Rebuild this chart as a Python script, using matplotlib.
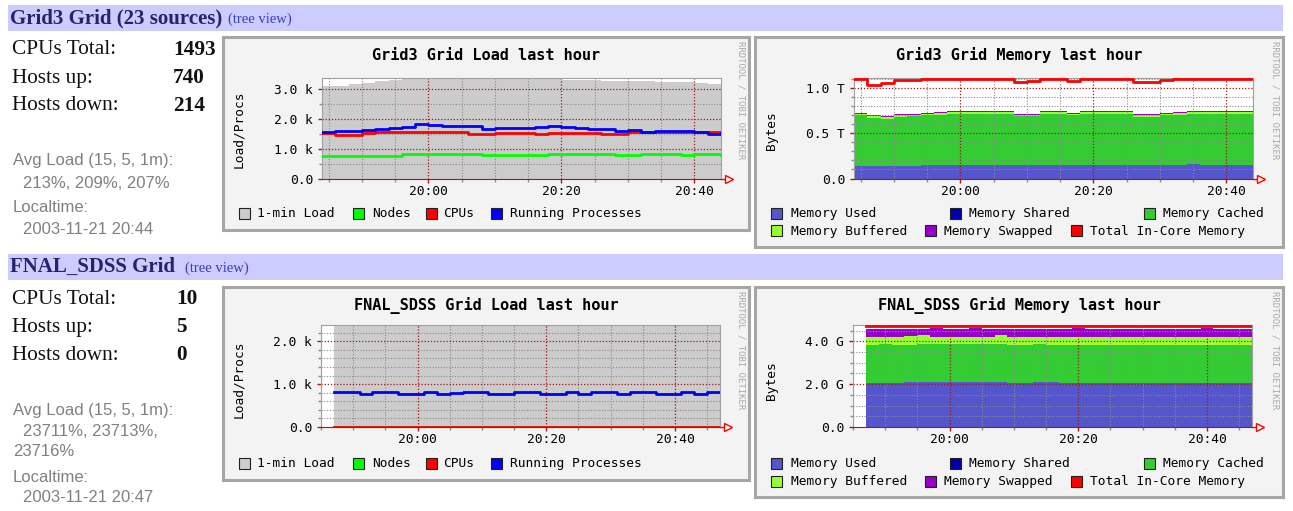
import matplotlib
matplotlib.use('Agg')
import matplotlib.pyplot as plt
from matplotlib.patches import Rectangle
import numpy as np

plt.rcParams['font.family'] = 'DejaVu Sans Mono'

W, H = 1293, 511

# time axis: minutes after 19:00, one sample every 2 minutes
grid3_t = np.arange(44, 105, 2)
fnal_t = np.arange(47, 108, 2)
time_ticks = [60, 80, 100]
time_labels = ['20:00', '20:20', '20:40']

# Grid3 load (thousands)
grid3_load = [3.08, 3.10, 3.14, 3.20, 3.24, 3.28, 3.32, 3.36, 3.38, 3.40,
              3.40, 3.38, 3.38, 3.37, 3.36, 3.36, 3.36, 3.35, 3.30, 3.28,
              3.27, 3.26, 3.25, 3.25, 3.24, 3.23, 3.22, 3.21, 3.20, 3.15, 3.12]
grid3_nodes = [0.76, 0.76, 0.76, 0.76, 0.76, 0.76, 0.81, 0.81, 0.81, 0.81,
               0.81, 0.81, 0.77, 0.77, 0.77, 0.77, 0.77, 0.81, 0.81, 0.81,
               0.81, 0.81, 0.77, 0.77, 0.81, 0.81, 0.81, 0.78, 0.81, 0.81, 0.77]
grid3_cpus = [1.52, 1.45, 1.44, 1.52, 1.54, 1.54, 1.54, 1.54, 1.54, 1.54,
              1.54, 1.48, 1.48, 1.53, 1.53, 1.53, 1.47, 1.53, 1.53, 1.53,
              1.53, 1.47, 1.47, 1.54, 1.54, 1.54, 1.54, 1.54, 1.54, 1.54, 1.54]
grid3_procs = [1.56, 1.58, 1.57, 1.62, 1.65, 1.70, 1.72, 1.83, 1.78, 1.76,
               1.76, 1.74, 1.66, 1.68, 1.70, 1.69, 1.71, 1.76, 1.73, 1.67,
               1.66, 1.64, 1.58, 1.62, 1.56, 1.58, 1.60, 1.58, 1.54, 1.50, 1.52]

# Grid3 memory (TB)
grid3_mem_used = [0.14, 0.14, 0.14, 0.14, 0.14, 0.145, 0.15, 0.155, 0.155, 0.155,
                  0.155, 0.155, 0.15, 0.155, 0.155, 0.15, 0.155, 0.155, 0.155, 0.155,
                  0.155, 0.15, 0.15, 0.15, 0.155, 0.16, 0.155, 0.155, 0.155, 0.155, 0.15]
grid3_mem_shared = [0, 0, 0, 0, 0, 0, 0, 0, 0, 0, 0, 0, 0, 0, 0, 0,
                    0, 0, 0, 0, 0, 0, 0, 0, 0, 0, 0, 0, 0, 0, 0]
grid3_mem_cached = [0.56, 0.53, 0.525, 0.54, 0.55, 0.555, 0.56, 0.565, 0.565, 0.565,
                    0.565, 0.565, 0.54, 0.535, 0.565, 0.57, 0.545, 0.565, 0.565, 0.565,
                    0.565, 0.535, 0.535, 0.55, 0.555, 0.56, 0.565, 0.565, 0.565, 0.565, 0.57]
grid3_mem_buffered = [0.02, 0.02, 0.02, 0.02, 0.02, 0.02, 0.018, 0.018, 0.018, 0.018,
                      0.018, 0.018, 0.02, 0.02, 0.018, 0.018, 0.02, 0.018, 0.018, 0.018,
                      0.018, 0.02, 0.02, 0.02, 0.018, 0.018, 0.018, 0.018, 0.018, 0.018, 0.018]
grid3_mem_swapped = [0.012, 0.012, 0.012, 0.012, 0.012, 0.012, 0.012, 0.012, 0.012, 0.012,
                     0.012, 0.012, 0.012, 0.012, 0.012, 0.012, 0.012, 0.012, 0.012, 0.012,
                     0.012, 0.012, 0.012, 0.012, 0.012, 0.012, 0.012, 0.012, 0.012, 0.012, 0.012]
grid3_mem_total = [1.10, 1.04, 1.06, 1.09, 1.09, 1.10, 1.11, 1.11, 1.11, 1.11,
                   1.11, 1.11, 1.07, 1.08, 1.11, 1.11, 1.08, 1.10, 1.11, 1.11,
                   1.11, 1.07, 1.07, 1.09, 1.10, 1.11, 1.11, 1.11, 1.10, 1.11, 1.10]

# FNAL_SDSS load (thousands)
fnal_load = [2.37, 2.37, 2.37, 2.37, 2.37, 2.37, 2.37, 2.37, 2.37, 2.37,
             2.37, 2.37, 2.37, 2.37, 2.37, 2.37, 2.37, 2.37, 2.37, 2.37,
             2.37, 2.37, 2.37, 2.37, 2.37, 2.37, 2.37, 2.37, 2.37, 2.37, 2.37]
fnal_nodes = [0.005, 0.005, 0.005, 0.005, 0.005, 0.005, 0.005, 0.005, 0.005, 0.005,
              0.005, 0.005, 0.005, 0.005, 0.005, 0.005, 0.005, 0.005, 0.005, 0.005,
              0.005, 0.005, 0.005, 0.005, 0.005, 0.005, 0.005, 0.005, 0.005, 0.005, 0.005]
fnal_cpus = [0.01, 0.01, 0.01, 0.01, 0.01, 0.01, 0.01, 0.01, 0.01, 0.01,
             0.01, 0.01, 0.01, 0.01, 0.01, 0.01, 0.01, 0.01, 0.01, 0.01,
             0.01, 0.01, 0.01, 0.01, 0.01, 0.01, 0.01, 0.01, 0.01, 0.01, 0.01]
fnal_procs = [0.81, 0.81, 0.77, 0.81, 0.81, 0.77, 0.77, 0.81, 0.77, 0.80,
              0.81, 0.81, 0.77, 0.77, 0.81, 0.81, 0.77, 0.77, 0.81, 0.77,
              0.81, 0.81, 0.77, 0.81, 0.81, 0.77, 0.77, 0.81, 0.77, 0.81, 0.81]

# FNAL_SDSS memory (GB)
fnal_mem_used = [2.05, 2.05, 2.05, 2.08, 2.08, 2.08, 2.08, 2.08, 2.08, 2.08,
                 2.08, 2.05, 2.05, 2.08, 2.08, 2.05, 2.05, 2.05, 2.05, 2.05,
                 2.05, 2.05, 2.05, 2.05, 2.05, 2.05, 2.05, 2.05, 2.05, 2.05, 2.08]
fnal_mem_shared = [0, 0, 0, 0, 0, 0, 0, 0, 0, 0, 0, 0, 0, 0, 0, 0,
                   0, 0, 0, 0, 0, 0, 0, 0, 0, 0, 0, 0, 0, 0, 0]
fnal_mem_cached = [1.80, 1.81, 1.77, 1.74, 1.80, 1.80, 1.80, 1.80, 1.80, 1.80,
                   1.80, 1.77, 1.77, 1.78, 1.76, 1.79, 1.79, 1.80, 1.80, 1.80,
                   1.80, 1.80, 1.80, 1.80, 1.80, 1.80, 1.80, 1.80, 1.77, 1.80, 1.77]
fnal_mem_buffered = [0.33, 0.32, 0.36, 0.44, 0.42, 0.30, 0.30, 0.30, 0.30, 0.30,
                     0.42, 0.36, 0.36, 0.32, 0.34, 0.34, 0.34, 0.33, 0.33, 0.33,
                     0.33, 0.33, 0.33, 0.33, 0.33, 0.33, 0.33, 0.33, 0.36, 0.33, 0.33]
fnal_mem_swapped = [0.40, 0.40, 0.40, 0.32, 0.28, 0.42, 0.40, 0.40, 0.42, 0.40,
                    0.28, 0.40, 0.40, 0.40, 0.40, 0.40, 0.42, 0.40, 0.40, 0.40,
                    0.40, 0.40, 0.40, 0.40, 0.40, 0.40, 0.42, 0.40, 0.40, 0.40, 0.40]
fnal_mem_total = [4.72, 4.72, 4.72, 4.72, 4.72, 4.72, 4.72, 4.72, 4.72, 4.72,
                  4.72, 4.72, 4.72, 4.72, 4.72, 4.72, 4.72, 4.72, 4.72, 4.72,
                  4.72, 4.72, 4.72, 4.72, 4.72, 4.72, 4.72, 4.72, 4.72, 4.72, 4.72]

load_names = ['1-min Load', 'Nodes', 'CPUs', 'Running Processes']
load_colors = ['#cccccc', '#00ff00', '#ff0000', '#0000ff']
mem_names = ['Memory Used', 'Memory Shared', 'Memory Cached',
             'Memory Buffered', 'Memory Swapped', 'Total In-Core Memory']
mem_colors = ['#5555cc', '#0000aa', '#33cc33', '#99ff33', '#9900cc', '#ff0000']

stat_labels = ['CPUs Total:', 'Hosts up:', 'Hosts down:']
grid3_stats = ['1493', '740', '214']
fnal_stats = ['10', '5', '0']

MAJOR = '#a01818'
MINOR = '#8c8c8c'
DOTS = (0, (1, 1.5))

fig = plt.figure(figsize=(W / 100, H / 100), dpi=100)
fig.patch.set_facecolor('white')


def px_axes(x0, y0, x1, y1):
    return fig.add_axes([x0 / W, 1 - y1 / H, (x1 - x0) / W, (y1 - y0) / H])


def txt(x, y, s, **kw):
    kw.setdefault('va', 'center')
    fig.text(x / W, 1 - y / H, s, **kw)


def rect(x0, y0, w, h, **kw):
    fig.add_artist(Rectangle((x0 / W, 1 - (y0 + h) / H), w / W, h / H,
                             transform=fig.transFigure, **kw))


def box(x0, y0, x1, y1):
    ax = px_axes(x0, y0, x1, y1)
    ax.set_facecolor('#f3f3f3')
    ax.set_xticks([])
    ax.set_yticks([])
    for s in ax.spines.values():
        s.set_color('#a6a6a6')
        s.set_linewidth(2.2)
    # rrdtool signature
    txt(x1 - 8, y0 + 4, 'RRDTOOL / TOBI OETIKER', rotation=270, fontsize=6.5,
        color='#aaaaaa', ha='center', va='top')
    return ax


def rrd_axes(x0, y0, x1, y1, t, ymax, yticks, ylabels, ystep):
    ax = px_axes(x0, y0, x1, y1)
    ax.set_facecolor('white')
    ax.set_xlim(t[0], t[-1])
    ax.set_ylim(0, ymax)
    xminor = [m for m in np.arange(45, t[-1], 5) if m not in time_ticks]
    yminor = [v for v in np.arange(ystep, ymax, ystep)
              if min(abs(v - k) for k in yticks) > 1e-6]
    ax.set_xticks(time_ticks)
    ax.set_xticklabels(time_labels)
    ax.set_xticks(xminor, minor=True)
    ax.set_yticks(yticks)
    ax.set_yticklabels(ylabels)
    ax.set_yticks(yminor, minor=True)
    # grid drawn over the areas, like rrdtool does
    for m in xminor:
        ax.axvline(m, color=MINOR, ls=DOTS, lw=0.8, zorder=2)
    for v in yminor:
        ax.axhline(v, color=MINOR, ls=DOTS, lw=0.8, zorder=2)
    for m in time_ticks:
        ax.axvline(m, color=MAJOR, ls=DOTS, lw=0.9, zorder=2)
    for v in yticks[1:]:
        ax.axhline(v, color=MAJOR, ls=DOTS, lw=0.9, zorder=2)
    ax.tick_params(which='major', direction='out', length=3, width=1,
                   color=MAJOR, labelsize=9.3)
    ax.tick_params(which='minor', direction='out', length=2, width=1, color=MINOR)
    ax.tick_params(axis='y', pad=3.5)
    ax.tick_params(axis='x', pad=1.5)
    for s in ['top', 'right', 'left']:
        ax.spines[s].set_color('#a0a0a0')
    ax.spines['bottom'].set_color(MAJOR)
    ax.plot([1.0, 1.025], [0, 0], color='#ff0000', lw=1,
            transform=ax.transAxes, clip_on=False)
    ax.plot([1.02], [0], marker='>', ms=6, mfc='white', mec='#ff0000', mew=1,
            transform=ax.transAxes, clip_on=False)
    return ax


def legend_item(xs, y, color, label, xt):
    rect(xs, y - 5.5, 11, 11, facecolor=color, edgecolor='#222222', lw=0.8)
    txt(xt, y, label, fontsize=9.3)


def load_chart(dy, t, title, ymax, yticks, ylabels, ystep, load, nodes, cpus, procs):
    box(223, 37 + dy, 749, 230 + dy)
    txt(486, 55 + dy, title, fontsize=11, fontweight='bold', ha='center')
    txt(239, 129 + dy, 'Load/Procs', rotation=90, fontsize=9.3, ha='center')
    top = 77.5 if dy == 0 else 325
    bottom = 178.5 if dy == 0 else 427
    x0, x1 = (322, 721) if dy == 0 else (321, 720)
    ax = rrd_axes(x0, top, x1, bottom, t, ymax, yticks, ylabels, ystep)
    ax.fill_between(t, load, step='post', color=load_colors[0], lw=0, zorder=1)
    for vals, col in zip([nodes, cpus, procs], load_colors[1:]):
        ax.step(t, vals, where='post', color=col, lw=2, zorder=3)
    ly = 213.5 + dy
    legend_item(239, ly, load_colors[0], load_names[0], 257)
    legend_item(353, ly, load_colors[1], load_names[1], 372)
    legend_item(426, ly, load_colors[2], load_names[2], 443)
    legend_item(491, ly, load_colors[3], load_names[3], 510)


def mem_chart(dy, t, title, ymax, yticks, ylabels, ystep, stacks, total):
    box(755, 37 + dy, 1283, 247 + dy)
    txt(1019, 55 + dy, title, fontsize=11, fontweight='bold', ha='center')
    txt(771, 131 + dy, 'Bytes', rotation=90, fontsize=9.3, ha='center')
    top = 77.5 if dy == 0 else 325
    bottom = 178.5 if dy == 0 else 427
    x0, x1 = (854, 1253) if dy == 0 else (853, 1252)
    ax = rrd_axes(x0, top, x1, bottom, t, ymax, yticks, ylabels, ystep)
    cum = np.zeros(len(t))
    for vals, col in zip(stacks, mem_colors[:5]):
        upper = cum + np.array(vals)
        ax.fill_between(t, cum, upper, step='post', color=col, lw=0, zorder=1)
        cum = upper
    ax.step(t, total, where='post', color=mem_colors[5], lw=2, zorder=3)
    ly1, ly2 = 213.5 + dy, 231 + dy
    legend_item(771, ly1, mem_colors[0], mem_names[0], 791)
    legend_item(950, ly1, mem_colors[1], mem_names[1], 969)
    legend_item(1144, ly1, mem_colors[2], mem_names[2], 1163)
    legend_item(771, ly2, mem_colors[3], mem_names[3], 791)
    legend_item(925, ly2, mem_colors[4], mem_names[4], 944)
    legend_item(1071, ly2, mem_colors[5], mem_names[5], 1090)


def header(y0, title, link_x):
    rect(8, y0, 1275, 26, facecolor='#ccccff', edgecolor='none')
    txt(10, y0 + 13, title, fontsize=15, fontweight='bold', color='#24246e',
        family='Liberation Serif')
    txt(link_x, y0 + 14, '(tree view)', fontsize=10.5, color='#3a3acc',
        family='Liberation Serif')


def stats(dy, values, vx, lines):
    for i, (lab, val) in enumerate(zip(stat_labels, values)):
        y = 50 + dy + 28 * i
        txt(12, y, lab, fontsize=15.3, family='Liberation Serif', color='#111111')
        txt(vx, y, val, fontsize=15.3, fontweight='bold', family='Liberation Serif',
            color='#111111')
    for x, y, s in lines:
        txt(x, y + dy, s, fontsize=12, family='Liberation Sans', color='#808080')


# ---- Grid3 row ----
header(5, 'Grid3 Grid (23 sources)', 228)
stats(0, grid3_stats, 173, [(13, 161, 'Avg Load (15, 5, 1m):'),
                            (23, 183, '213%, 209%, 207%'),
                            (13, 208, 'Localtime:'),
                            (23, 229, '2003-11-21 20:44')])
load_chart(0, grid3_t, 'Grid3 Grid Load last hour', 3.37, [0, 1, 2, 3],
           ['0.0', '1.0 k', '2.0 k', '3.0 k'], 0.5,
           grid3_load, grid3_nodes, grid3_cpus, grid3_procs)
mem_chart(0, grid3_t, 'Grid3 Grid Memory last hour', 1.122, [0, 0.5, 1.0],
          ['0.0', '0.5 T', '1.0 T'], 0.1,
          [grid3_mem_used, grid3_mem_shared, grid3_mem_cached,
           grid3_mem_buffered, grid3_mem_swapped], grid3_mem_total)

# ---- FNAL_SDSS row ----
header(254, 'FNAL_SDSS Grid', 185)
stats(249, fnal_stats, 176, [(13, 161, 'Avg Load (15, 5, 1m):'),
                             (23, 183, '23711%, 23713%,'),
                             (13, 203, '23716%'),
                             (13, 229, 'Localtime:'),
                             (23, 249, '2003-11-21 20:47')])
load_chart(250, fnal_t, 'FNAL_SDSS Grid Load last hour', 2.38, [0, 1, 2],
           ['0.0', '1.0 k', '2.0 k'], 0.2,
           fnal_load, fnal_nodes, fnal_cpus, fnal_procs)
mem_chart(250, fnal_t, 'FNAL_SDSS Grid Memory last hour', 4.76, [0, 2, 4],
          ['0.0', '2.0 G', '4.0 G'], 0.5,
          [fnal_mem_used, fnal_mem_shared, fnal_mem_cached,
           fnal_mem_buffered, fnal_mem_swapped], fnal_mem_total)

fig.savefig('out.png', dpi=100, facecolor='white')
